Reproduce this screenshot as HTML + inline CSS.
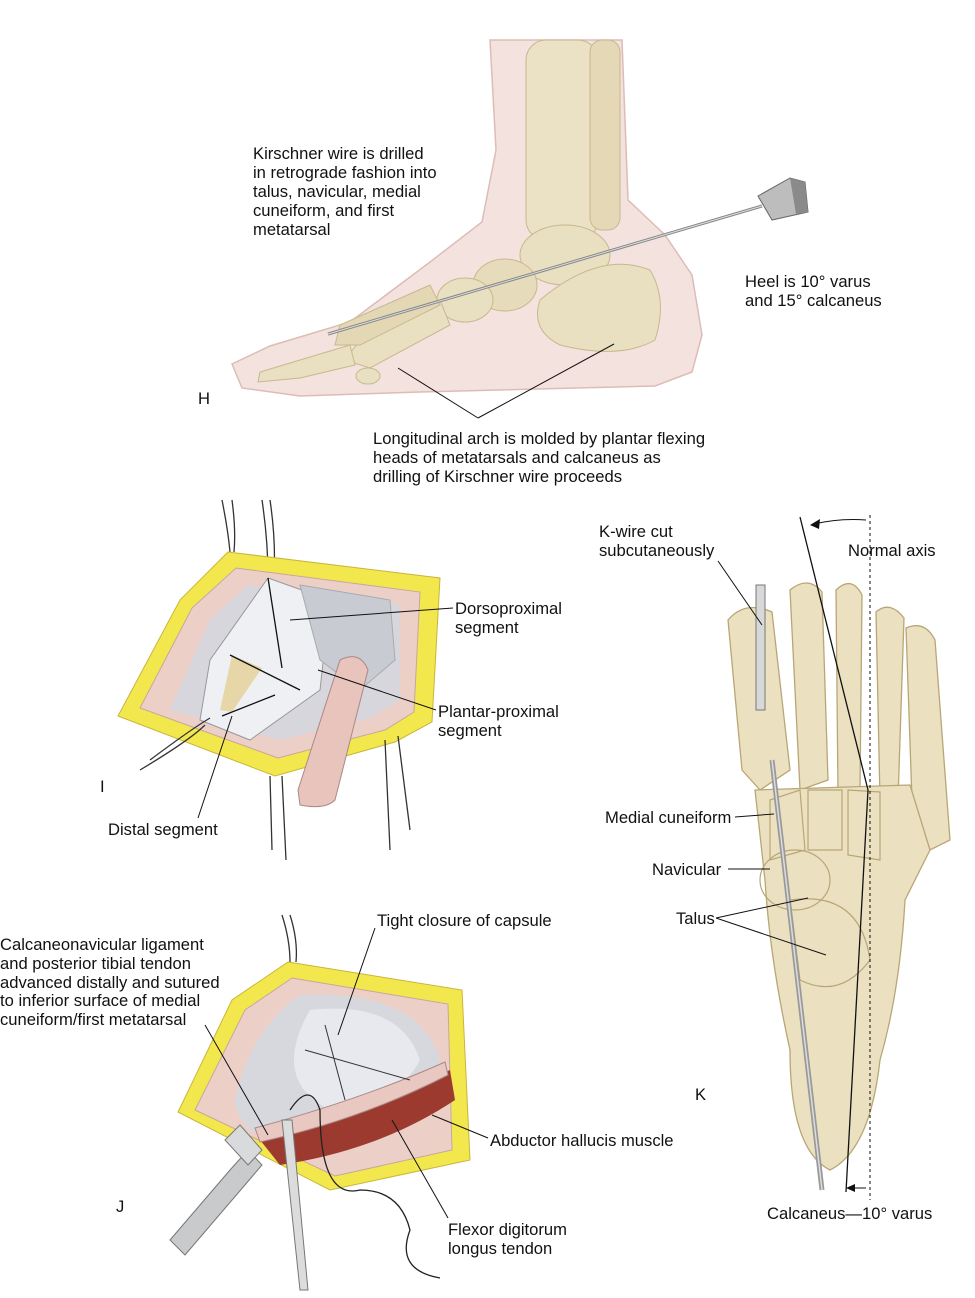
<!DOCTYPE html>
<html><head><meta charset="utf-8"><style>
html,body{margin:0;padding:0;background:#fff;}
svg{display:block;}
text{font-family:"Liberation Sans",sans-serif;font-size:16.6px;fill:#111;}
</style></head><body>
<svg width="975" height="1298" viewBox="0 0 975 1298" xmlns="http://www.w3.org/2000/svg">
<!-- ===== H: foot lateral ===== -->
<path d="M490,40 L622,40 L628,200 L665,235 L692,275 L702,335 L692,372 L655,386 L420,392 L300,396 L242,388 L232,364 L270,346 L350,322 L430,262 L482,222 L496,150 Z" fill="#f3e2de" stroke="#dcbdb6" stroke-width="1.5"/>
<rect x="526" y="40" width="72" height="200" rx="20" fill="#ebe1c4" stroke="#c9b88e"/>
<rect x="590" y="40" width="30" height="190" rx="12" fill="#e4d8b6" stroke="#c9b88e"/>
<ellipse cx="565" cy="255" rx="45" ry="30" fill="#e9dfc1" stroke="#c9b88e"/>
<path d="M540,300 Q600,250 650,270 Q668,300 655,340 Q620,360 560,345 Q530,330 540,300 Z" fill="#e9dfc1" stroke="#c9b88e"/>
<ellipse cx="505" cy="285" rx="32" ry="26" fill="#e6dbbb" stroke="#c9b88e"/>
<ellipse cx="465" cy="300" rx="28" ry="22" fill="#e9dfc1" stroke="#c9b88e"/>
<path d="M440,300 L360,340 L345,360 L370,368 L450,325 Z" fill="#e9dfc1" stroke="#c9b88e"/>
<path d="M430,285 L340,325 L335,345 L360,345 L440,305 Z" fill="#e3d7b4" stroke="#c9b88e"/>
<path d="M350,345 L300,360 L260,372 L258,382 L300,378 L355,365 Z" fill="#e9dfc1" stroke="#c9b88e"/>
<ellipse cx="368" cy="376" rx="12" ry="8" fill="#e9dfc1" stroke="#c9b88e"/>
<line x1="328" y1="334" x2="762" y2="206" stroke="#888" stroke-width="3"/>
<line x1="328" y1="334" x2="762" y2="206" stroke="#ddd" stroke-width="1"/>
<path d="M758,196 L790,178 L805,182 L808,212 L772,220 Z" fill="#bdbdbd" stroke="#666"/>
<path d="M790,178 L805,182 L808,212 L796,214 Z" fill="#8a8a8a"/>
<line x1="398" y1="368" x2="478" y2="418" stroke="#111"/>
<line x1="478" y1="418" x2="614" y2="344" stroke="#111"/>
<text x="253" y="159">Kirschner wire is drilled</text>
<text x="253" y="178">in retrograde fashion into</text>
<text x="253" y="197">talus, navicular, medial</text>
<text x="253" y="216">cuneiform, and first</text>
<text x="253" y="235">metatarsal</text>
<text x="745" y="287">Heel is 10° varus</text>
<text x="745" y="306">and 15° calcaneus</text>
<text x="198" y="404" font-size="19">H</text>
<text x="373" y="444">Longitudinal arch is molded by plantar flexing</text>
<text x="373" y="463">heads of metatarsals and calcaneus as</text>
<text x="373" y="482">drilling of Kirschner wire proceeds</text>

<!-- ===== I ===== -->
<path d="M222,500 Q228,530 230,552 M232,500 Q236,530 234,552 M262,500 Q268,540 268,578 M270,500 Q276,540 274,578" stroke="#333" fill="none" stroke-width="1.3"/>
<path d="M228,552 L440,578 L432,722 L395,742 L275,776 L118,716 L180,600 Z" fill="#f2e84e" stroke="#c9b53a"/>
<path d="M236,568 L420,592 L414,712 L385,730 L278,758 L140,708 L192,608 Z" fill="#ecd0c8" stroke="#c9a69c"/>
<path d="M248,585 L400,605 L400,700 L370,718 L280,740 L170,710 L210,620 Z" fill="#d6d6dc"/>
<path d="M268,578 L330,600 L320,690 L250,740 L200,720 L210,660 Z" fill="#eef0f4" stroke="#999"/>
<path d="M300,585 L390,600 L395,660 L360,690 L320,660 Z" fill="#c9cbd2" stroke="#aaa"/>
<path d="M340,660 Q360,650 368,670 L335,800 Q325,810 300,805 L298,790 Z" fill="#e8c4bd" stroke="#a88"/>
<path d="M232,655 L262,668 L232,712 L220,710 Z" fill="#e6d6a8"/>
<path d="M268,578 L282,668 M230,655 L300,690 M222,716 L275,695" stroke="#111" fill="none" stroke-width="1.3"/>
<path d="M150,760 Q190,730 210,718 M140,770 Q190,740 205,725 M270,776 L272,850 M282,776 L286,860 M385,740 L390,850 M398,736 L410,830" stroke="#333" fill="none" stroke-width="1.3"/>
<line x1="290" y1="620" x2="453" y2="608" stroke="#111"/>
<line x1="318" y1="670" x2="436" y2="710" stroke="#111"/>
<line x1="232" y1="716" x2="198" y2="818" stroke="#111"/>
<text x="455" y="614">Dorsoproximal</text>
<text x="455" y="633">segment</text>
<text x="438" y="717">Plantar-proximal</text>
<text x="438" y="736">segment</text>
<text x="100" y="792" font-size="19">I</text>
<text x="108" y="835">Distal segment</text>

<!-- ===== K ===== -->
<g fill="#ebe0c0" stroke="#b8a676" stroke-width="1.3">
<path d="M728,620 Q745,600 772,612 L790,770 L760,790 L742,770 Z"/>
<path d="M790,590 Q808,575 822,592 L828,780 L800,790 Z"/>
<path d="M836,590 Q852,575 862,595 L860,790 L838,795 Z"/>
<path d="M876,612 Q890,600 904,618 L898,800 L880,800 Z"/>
<path d="M906,628 Q925,620 935,640 L950,840 L930,850 L912,800 Z"/>
<path d="M755,790 L910,785 L930,850 L905,900 Q900,990 880,1060 Q870,1150 830,1170 Q790,1150 790,1050 Q770,960 765,880 Z"/>
</g>
<g fill="none" stroke="#b8a676" stroke-width="1.2">
<path d="M770,800 L800,790 L805,850 L770,860 Z"/>
<path d="M808,790 L842,790 L842,850 L808,850 Z"/>
<path d="M848,790 L880,792 L880,860 L848,855 Z"/>
<ellipse cx="795" cy="880" rx="35" ry="30"/>
<path d="M790,900 Q860,890 870,960 Q840,1000 800,980 Z"/>
</g>
<rect x="756" y="585" width="9" height="125" fill="#d8d8d8" stroke="#777"/>
<line x1="772" y1="760" x2="822" y2="1190" stroke="#999" stroke-width="5"/>
<line x1="772" y1="760" x2="822" y2="1190" stroke="#ddd" stroke-width="1.5"/>
<line x1="800" y1="517" x2="868" y2="790" stroke="#111" stroke-width="1.3"/>
<line x1="868" y1="790" x2="846" y2="1192" stroke="#111" stroke-width="1.3"/>
<line x1="870" y1="515" x2="870" y2="1200" stroke="#111" stroke-dasharray="3,3"/>
<path d="M866,520 Q840,518 814,524" stroke="#111" fill="none"/><path d="M810,525 L820,519 L819,529 Z" fill="#111"/>
<line x1="866" y1="1188" x2="850" y2="1188" stroke="#111"/><path d="M846,1188 L855,1184 L855,1192 Z" fill="#111"/>
<line x1="718" y1="561" x2="762" y2="625" stroke="#111"/>
<line x1="735" y1="817" x2="774" y2="814" stroke="#111"/>
<line x1="728" y1="869" x2="770" y2="869" stroke="#111"/>
<line x1="716" y1="918" x2="808" y2="898" stroke="#111"/>
<line x1="716" y1="918" x2="826" y2="955" stroke="#111"/>
<text x="599" y="537">K-wire cut</text>
<text x="599" y="556">subcutaneously</text>
<text x="848" y="556">Normal axis</text>
<text x="605" y="823">Medial cuneiform</text>
<text x="652" y="875">Navicular</text>
<text x="676" y="924">Talus</text>
<text x="695" y="1100" font-size="19">K</text>
<text x="767" y="1219">Calcaneus—10° varus</text>

<!-- ===== J ===== -->
<path d="M282,915 Q290,940 290,962 M290,915 Q298,940 296,962" stroke="#333" fill="none" stroke-width="1.3"/>
<path d="M288,962 L462,990 L470,1160 L330,1190 L178,1112 L232,1000 Z" fill="#f2e84e" stroke="#c9b53a"/>
<path d="M292,978 L448,1004 L452,1150 L335,1176 L195,1110 L245,1010 Z" fill="#ecd0c8" stroke="#c9a69c"/>
<path d="M300,995 Q420,990 440,1060 Q440,1110 390,1130 L300,1150 Q240,1140 235,1100 Q250,1030 300,995 Z" fill="#d7d8de"/>
<path d="M310,1010 Q400,1000 420,1060 Q400,1100 330,1110 Q270,1080 310,1010 Z" fill="#e8e9ee"/>
<path d="M260,1140 Q370,1110 450,1070 L455,1100 Q380,1150 280,1165 Z" fill="#9c3a30"/>
<path d="M255,1128 Q360,1100 445,1062 L448,1075 Q360,1120 260,1142 Z" fill="#e8c8c0" stroke="#a88"/>
<path d="M325,1025 L345,1100 M305,1050 L410,1080" stroke="#333" fill="none"/>
<path d="M170,1240 L230,1170 L248,1150 L262,1165 L185,1255 Z" fill="#c8cacc" stroke="#777"/>
<path d="M225,1140 L240,1125 L262,1150 L248,1165 Z" fill="#d8dadc" stroke="#777"/>
<path d="M282,1120 L300,1290 L308,1290 L292,1120 Z" fill="#dcdcdc" stroke="#777"/>
<path d="M290,1110 Q310,1080 320,1110 Q320,1200 360,1190 Q400,1190 410,1230 Q395,1270 440,1278" stroke="#222" fill="none" stroke-width="1.3"/>
<line x1="375" y1="928" x2="338" y2="1035" stroke="#111"/>
<line x1="205" y1="1025" x2="268" y2="1135" stroke="#111"/>
<line x1="432" y1="1115" x2="488" y2="1138" stroke="#111"/>
<line x1="392" y1="1120" x2="448" y2="1218" stroke="#111"/>
<text x="377" y="926">Tight closure of capsule</text>
<text x="0" y="950">Calcaneonavicular ligament</text>
<text x="0" y="969">and posterior tibial tendon</text>
<text x="0" y="988">advanced distally and sutured</text>
<text x="0" y="1006">to inferior surface of medial</text>
<text x="0" y="1025">cuneiform/first metatarsal</text>
<text x="490" y="1146">Abductor hallucis muscle</text>
<text x="116" y="1212" font-size="19">J</text>
<text x="448" y="1235">Flexor digitorum</text>
<text x="448" y="1254">longus tendon</text>
</svg>
</body></html>
